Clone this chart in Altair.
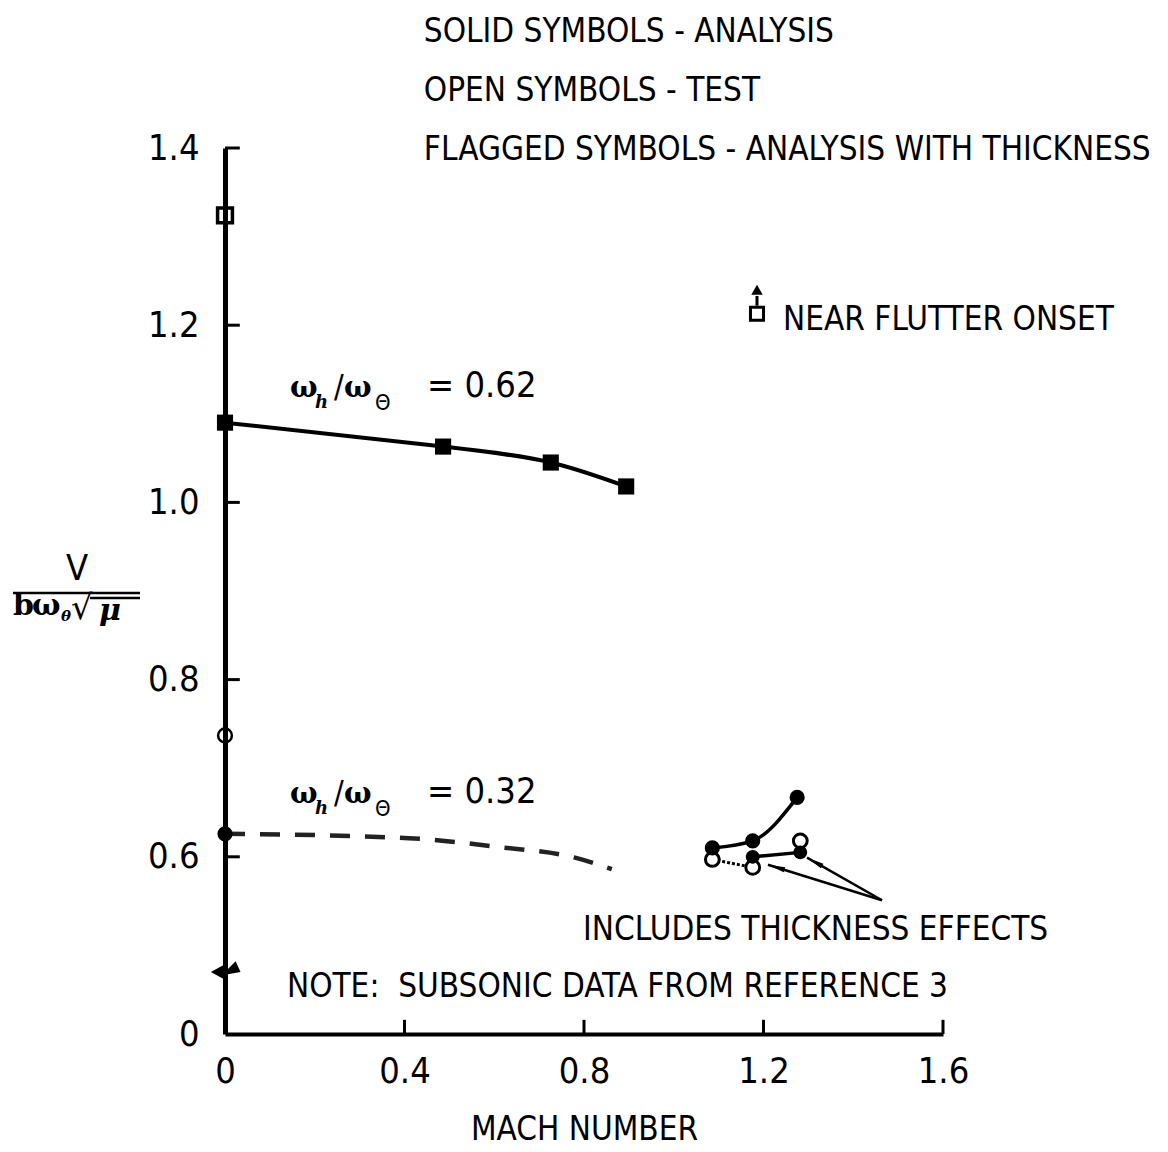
import altair as alt
import pandas as pd

# ---------------- data ----------------
# omega_h/omega_theta = 0.62 : analysis, solid squares + solid curve
m_062 = [0.0, 0.486, 0.726, 0.894]
v_062 = [1.090, 1.063, 1.045, 1.018]

# omega_h/omega_theta = 0.32 : analysis dashed curve
m_032 = [0.0, 0.41, 0.61, 0.78, 0.862]
v_032 = [0.626, 0.621, 0.611, 0.599, 0.586]

# subsonic symbols on the M = 0 axis
sub_solid_circle_v = [0.626]
sub_open_circle_v = [0.737]
sub_open_square_v = [1.324]
sub_flag_tri_v = [0.470]          # drawn below the axis break

# supersonic cluster (omega ratio 0.32)
sup_analysis_m = [1.086, 1.176, 1.275]
sup_analysis_v = [0.610, 0.618, 0.667]
sup_test_m = [1.086, 1.176, 1.282]
sup_test_v = [0.597, 0.588, 0.618]
sup_thick_m = [1.176, 1.282]
sup_thick_v = [0.600, 0.605]

x_ticks = [0, 0.4, 0.8, 1.2, 1.6]
y_ticks = [0.4, 0.6, 0.8, 1.0, 1.2, 1.4]   # 0.4 position is labelled "0" (broken axis)

# ---------------- annotation placement ----------------
header_lines = ["SOLID SYMBOLS - ANALYSIS", "OPEN SYMBOLS - TEST",
                "FLAGGED SYMBOLS - ANALYSIS WITH THICKNESS"]
header_x = [0.443, 0.443, 0.443]
header_y = [1.520, 1.453, 1.386]

note_text = ["NEAR FLUTTER ONSET", "INCLUDES THICKNESS EFFECTS",
             "NOTE:\u00a0\u00a0SUBSONIC DATA FROM REFERENCE 3"]
note_x = [1.2435, 0.798, 0.138]
note_y = [1.195, 0.506, 0.442]

arrow_tail = (1.464, 0.551)
arrow_tips_m = [1.210, 1.297]
arrow_tips_v = [0.591, 0.599]
arrow_angles = [287, 299]

FONT = "DejaVu Sans Condensed, DejaVu Sans, sans-serif"
SERIF = "DejaVu Serif"
FS = 33
PX = 448.75  # px per Mach unit (used only to lay out label pieces)

XS = alt.Scale(domain=[0, 1.6], nice=False, zero=False)
YS = alt.Scale(domain=[0.4, 1.4], nice=False, zero=False)

AX_X = alt.Axis(values=x_ticks, ticks=False, grid=False, domainColor="black",
                domainWidth=4, labelFont=FONT, labelFontSize=36, labelColor="black",
                labelPadding=20, labelFlush=False,
                labelExpr="datum.value == 0 ? '0' : format(datum.value, '.1f')",
                titleFont=FONT, titleFontSize=FS, titleFontWeight="normal",
                titleColor="black", titlePadding=24)
AX_Y = alt.Axis(values=y_ticks, ticks=False, grid=False, domainColor="black",
                domainWidth=5, labelFont=FONT, labelFontSize=36, labelColor="black",
                labelPadding=26, labelFlush=False,
                labelExpr="datum.value < 0.5 ? '0' : format(datum.value, '.1f')")


def X(f="m"):
    return alt.X(f"{f}:Q", scale=XS, axis=AX_X, title="MACH NUMBER")


def Y(f="v"):
    return alt.Y(f"{f}:Q", scale=YS, axis=AX_Y, title=None)


def df(**kw):
    return pd.DataFrame(kw)


layers = []

# inward tick stubs
ytick_df = df(m=[0.0] * 5, m2=[0.033] * 5, v=y_ticks[1:])
layers.append(alt.Chart(ytick_df).mark_rule(color="black", strokeWidth=3).encode(
    x=X("m"), x2="m2:Q", y=Y("v")))
xtick_df = df(m=x_ticks[1:], v=[0.4] * 4, v2=[0.416] * 4)
layers.append(alt.Chart(xtick_df).mark_rule(color="black", strokeWidth=3).encode(
    x=X("m"), y=Y("v"), y2="v2:Q"))

# 0.62 curve + squares
d062 = df(m=m_062, v=v_062)
layers.append(alt.Chart(d062).mark_line(color="black", strokeWidth=4, interpolate="natural")
              .encode(x=X(), y=Y()))
layers.append(alt.Chart(d062).mark_point(shape="square", filled=True, color="black", size=260, opacity=1)
              .encode(x=X(), y=Y()))

# 0.32 dashed curve
d032 = df(m=m_032, v=v_032)
layers.append(alt.Chart(d032).mark_line(color="#222", strokeWidth=4.5, strokeDash=[20, 15],
                                        interpolate="monotone").encode(x=X(), y=Y()))

# subsonic symbols
layers.append(alt.Chart(df(m=[0.0], v=sub_solid_circle_v)).mark_point(
    shape="circle", filled=True, color="black", size=230, opacity=1).encode(x=X(), y=Y()))
layers.append(alt.Chart(df(m=[0.0], v=sub_open_circle_v)).mark_point(
    shape="circle", filled=False, color="black", size=190, strokeWidth=2.5, opacity=1).encode(x=X(), y=Y()))
layers.append(alt.Chart(df(m=[0.0], v=sub_open_square_v)).mark_point(
    shape="square", filled=False, color="black", size=220, strokeWidth=3.5, opacity=1).encode(x=X(), y=Y()))
layers.append(alt.Chart(df(m=[0.0], v=sub_flag_tri_v)).mark_point(
    shape="M-1,0 L0,-0.55 L0,0.55 Z M0,0 L0.75,-0.75 L1.1,0 L0,0.2", filled=True, color="black",
    size=800, strokeWidth=3, opacity=1).encode(x=X(), y=Y()))

# supersonic cluster
da = df(m=sup_analysis_m, v=sup_analysis_v)
dt = df(m=sup_test_m, v=sup_test_v)
dk = df(m=sup_thick_m, v=sup_thick_v)
layers.append(alt.Chart(da).mark_line(color="black", strokeWidth=3.5, interpolate="monotone")
              .encode(x=X(), y=Y()))
layers.append(alt.Chart(dk).mark_line(color="black", strokeWidth=3.5, interpolate="monotone")
              .encode(x=X(), y=Y()))
layers.append(alt.Chart(dt.iloc[:2]).mark_line(color="black", strokeWidth=3, strokeDash=[3, 2])
              .encode(x=X(), y=Y()))
layers.append(alt.Chart(dt).mark_point(shape="circle", filled=True, fill="white", stroke="black",
                                       size=190, strokeWidth=3, opacity=1).encode(x=X(), y=Y()))
layers.append(alt.Chart(dk).mark_point(
    shape="M-1,0 A1,1 0 1,0 1,0 A1,1 0 1,0 -1,0 Z M0.6,-0.7 L1.9,-2.1",
    filled=True, color="black", size=190, strokeWidth=3.5, opacity=1).encode(x=X(), y=Y()))
layers.append(alt.Chart(da).mark_point(shape="circle", filled=True, color="black", size=230, opacity=1)
              .encode(x=X(), y=Y()))

# arrows
arr = df(m=[arrow_tail[0]] * 2, v=[arrow_tail[1]] * 2, m2=arrow_tips_m, v2=arrow_tips_v, a=arrow_angles)
layers.append(alt.Chart(arr).mark_rule(color="black", strokeWidth=2.5).encode(
    x=X("m"), y=Y("v"), x2="m2:Q", y2="v2:Q"))
layers.append(alt.Chart(arr).mark_point(shape="M0,0 L0.3,2 L-0.3,2 Z", filled=True, color="black",
                                        size=300, opacity=1).encode(
    x=X("m2"), y=Y("v2"), angle=alt.Angle("a:Q", scale=None)))

# near-flutter-onset legend symbol
layers.append(alt.Chart(df(m=[1.1855], v=[1.213])).mark_point(
    shape="square", filled=False, color="black", size=170, strokeWidth=3, opacity=1).encode(x=X(), y=Y()))
layers.append(alt.Chart(df(m=[1.1855], v=[1.240])).mark_point(
    shape="triangle-up", filled=True, color="black", size=130, opacity=1).encode(x=X(), y=Y()))
layers.append(alt.Chart(df(m=[1.1855], v=[1.233], v2=[1.222])).mark_rule(color="black", strokeWidth=3)
              .encode(x=X(), y=Y(), y2="v2:Q"))

# plain text annotations
tdf = df(m=header_x + note_x, v=header_y + note_y, t=header_lines + note_text)
layers.append(alt.Chart(tdf).mark_text(font=FONT, fontSize=FS, align="left", baseline="alphabetic",
                                       color="black").encode(x=X(), y=Y(), text="t:N"))

# omega ratio labels (pieces)
pieces = [("ω", 0, 0, 29, SERIF, "bold", "normal"),
          ("h", 25, 11, 18, SERIF, "bold", "italic"),
          ("/", 44, 0, 32, FONT, "normal", "normal"),
          ("ω", 54, 0, 29, SERIF, "bold", "normal"),
          ("Θ", 85, 13, 22, FONT, "normal", "normal")]
for base_m, base_v, val in [((290 - 225) / PX, 1.119, "= 0.62"), ((290 - 225) / PX, 0.661, "= 0.32")]:
    for t, dxp, dyp, fs, fnt, fw, fst in pieces:
        layers.append(alt.Chart(df(m=[base_m + dxp / PX], v=[base_v], t=[t])).mark_text(
            font=fnt, fontSize=fs, fontWeight=fw, fontStyle=fst, align="left", baseline="alphabetic",
            dy=dyp, color="black").encode(x=X(), y=Y(), text="t:N"))
    layers.append(alt.Chart(df(m=[(427 - 225) / PX], v=[base_v], t=[val])).mark_text(
        font=FONT, fontSize=36, align="left", baseline="alphabetic", color="black").encode(
        x=X(), y=Y(), text="t:N"))

# y-axis title: V / (b omega_theta sqrt(mu))
layers.append(alt.Chart(df(m=[-0.3298], v=[0.9124], t=["V"])).mark_text(
    font=FONT, fontSize=36, align="center", baseline="alphabetic", color="black").encode(
    x=X(), y=Y(), text="t:N"))
layers.append(alt.Chart(df(m=[-0.4724], m2=[-0.1894], v=[0.8977])).mark_rule(
    color="black", strokeWidth=2.5).encode(x=X(), x2="m2:Q", y=Y()))
layers.append(alt.Chart(df(m=[-0.3008], m2=[-0.1894], v=[0.8921])).mark_rule(
    color="black", strokeWidth=2.5).encode(x=X(), x2="m2:Q", y=Y()))
ytitle_pieces = [("b", -0.4724, 0, 30, SERIF, "bold", "normal"),
                 ("ω", -0.4301, 0, 30, SERIF, "bold", "normal"),
                 ("θ", -0.3655, 6, 15, SERIF, "bold", "italic"),
                 ("√", -0.3432, 4, 34, "DejaVu Sans", "normal", "normal"),
                 ("μ", -0.2810, 5, 30, SERIF, "bold", "italic")]
for t, mm, dyp, fs, fnt, fw, fst in ytitle_pieces:
    layers.append(alt.Chart(df(m=[mm], v=[0.873], t=[t])).mark_text(
        font=fnt, fontSize=fs, fontWeight=fw, fontStyle=fst, align="left", baseline="alphabetic",
        dy=dyp, color="black").encode(x=X(), y=Y(), text="t:N"))

chart = alt.layer(*layers).properties(
    width=718, height=886,
    padding={"left": 217, "top": 140, "right": 210, "bottom": 120},
    autosize=alt.AutoSizeParams(type="none"),
    background="white",
).configure_view(stroke=None)

chart.save("out.html", embed_options={"renderer": "svg", "actions": False})
